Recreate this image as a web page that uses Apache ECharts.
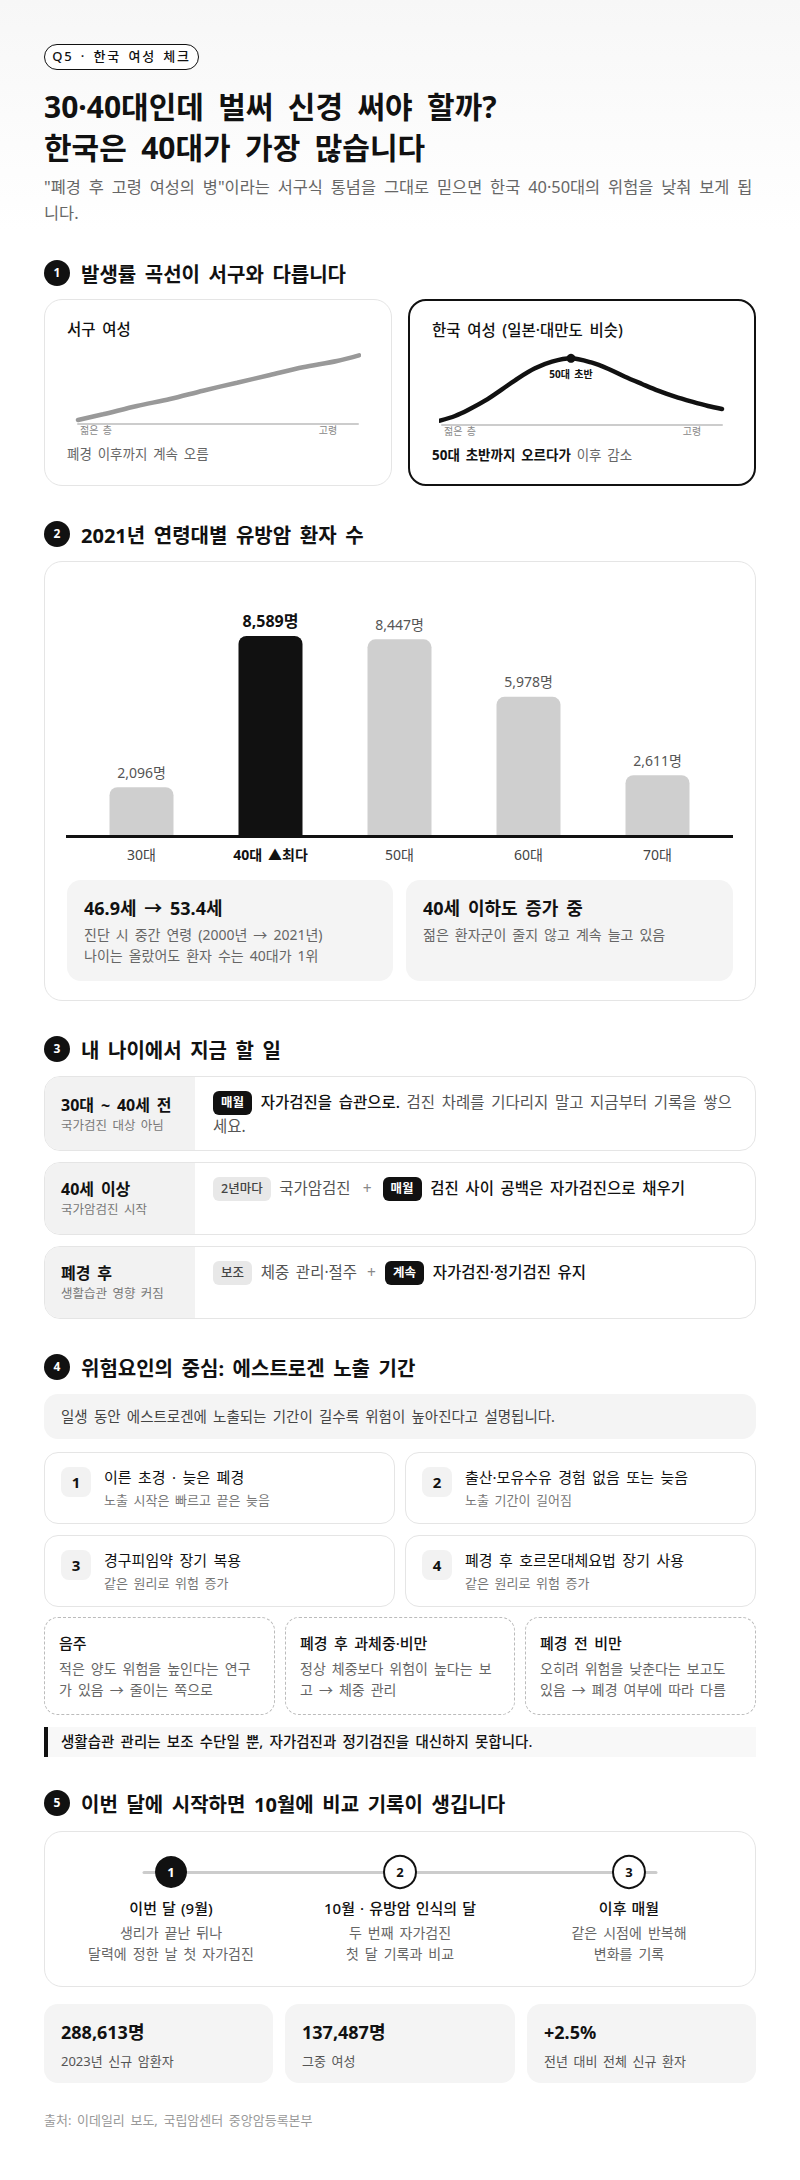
<!DOCTYPE html>
<html lang="ko">
<head>
<meta charset="utf-8">
<title>Q5 한국 여성 체크</title>
<script src="https://cdn.jsdelivr.net/npm/echarts@6/dist/echarts.min.js"></script>
<style>
* { box-sizing: border-box; margin: 0; padding: 0; word-spacing: .17em; }
html, body { width: 800px; height: 2180px; background: #fff; overflow: hidden; }
body { font-family: "Noto Sans", "Noto Sans CJK KR", sans-serif; color: #111; position: relative;
  background: linear-gradient(#f7f7f7 0, #fff 230px); }
.abs { position: absolute; left: 44px; width: 712px; }
.pill { position: absolute; left: 44px; top: 44px; width: 155px; height: 26px; border: 1.5px solid #111; border-radius: 13px;
  font-size: 13px; font-weight: 500; letter-spacing: 1.8px; line-height: 23px; text-align: center; background: #fff; white-space: nowrap; }
h1 { position: absolute; left: 44px; top: 86px; font-size: 30px; line-height: 41px; font-weight: 700; word-spacing: .22em; }
.lead { top: 174px; font-size: 16.4px; line-height: 26px; color: #666; word-spacing: .22em; }
.h { display: flex; align-items: center; height: 26px; font-size: 20px; font-weight: 700; gap: 11px; }
.h i { display: block; width: 26px; height: 26px; border-radius: 50%; background: #111; color: #fff; font-style: normal;
  font-size: 12px; line-height: 26px; text-align: center; }
.card { position: absolute; background: #fff; border: 1px solid #e5e5e5; border-radius: 18px; }
.curve { top: 299px; width: 348px; height: 187px; }
.curve .c { position: absolute; left: -1px; top: -1px; width: 348px; height: 187px; }
.curve b { position: absolute; left: 22px; top: 18px; font-size: 15.5px; font-weight: 500; line-height: 22px; white-space: nowrap; }
.curve p { position: absolute; left: 22px; top: 144px; font-size: 13.5px; line-height: 20px; color: #666; white-space: nowrap; }
.curve p strong { color: #111; font-weight: 700; }
.on { border: 2px solid #111; }
.on .c { left: -2px; top: -1px; }
.grey { position: absolute; background: #f4f4f4; border-radius: 14px; }
.grey b { display: block; font-size: 18px; font-weight: 700; line-height: 26px; margin-bottom: 3px; }
.grey p { font-size: 14px; line-height: 21px; color: #666; white-space: nowrap; }
.row { position: absolute; left: 44px; width: 712px; background: #fff; border: 1px solid #e5e5e5; border-radius: 16px; overflow: hidden; display: flex; }
.row .l { width: 150px; background: #f2f2f2; padding-left: 16px; flex: none; }
.row .l b { display: block; font-size: 16px; font-weight: 700; line-height: 24px; }
.row .l span { display: block; font-size: 12.5px; line-height: 18px; color: #777; }
.row .r { padding: 14px 22px 0 18px; font-size: 15.5px; line-height: 23px; color: #555; flex: 1; }
.row .r strong { color: #111; font-weight: 500; }
.tag { display: inline-block; height: 24px; line-height: 23px; padding: 0 8px; border-radius: 6px; font-size: 12.5px; font-weight: 700; margin-right: 2px; vertical-align: top; }
.tag.k { background: #111; color: #fff; }
.tag.g { background: #e8e8e8; color: #444; font-weight: 500; }
.plus { color: #888; margin: 0 11px 0 12px; }
.fac { position: absolute; background: #fff; border: 1px solid #e5e5e5; border-radius: 14px; width: 351px; height: 72px; }
.fac i { position: absolute; left: 16px; top: 14px; width: 30px; height: 30px; background: #f2f2f2; border-radius: 8px; font-style: normal; font-weight: 700; font-size: 15px; line-height: 30px; text-align: center; }
.fac b { position: absolute; left: 59px; top: 13px; font-size: 15px; font-weight: 400; line-height: 22px; white-space: nowrap; }
.fac span { position: absolute; left: 59px; top: 37px; font-size: 13px; line-height: 20px; color: #777; white-space: nowrap; }
.dash { position: absolute; top: 1617px; height: 98px; background: #fff; border: 1px dashed #bbb; border-radius: 14px; padding: 14px 14px 0; }
.dash b { display: block; font-size: 15px; font-weight: 500; line-height: 22px; margin-bottom: 4px; }
.dash p { font-size: 14px; line-height: 21px; color: #666; }
.note { top: 1727px; height: 30px; background: #f8f8f8; border-left: 4px solid #111; padding-left: 13px; font-size: 14.5px; font-weight: 500; line-height: 29px; }
.step { position: absolute; top: 1896px; width: 229px; margin-left: -114.5px; text-align: center; }
.step b { display: block; font-size: 15px; font-weight: 500; line-height: 24px; margin-bottom: 2px; word-spacing: .08em; }
.step p { font-size: 14px; line-height: 21px; color: #666; }
.stat { position: absolute; top: 2004px; height: 79px; background: #f4f4f4; border-radius: 14px; padding: 15px 17px 0; }
.stat b { display: block; font-size: 18px; font-weight: 700; line-height: 27px; margin-bottom: 3px; }
.stat span { font-size: 13px; line-height: 22px; color: #555; }
.src { top: 2110px; font-size: 13px; line-height: 20px; color: #999; }
</style>
</head>
<body>
<div class="pill">Q5 · 한국 여성 체크</div>
<h1>30·40대인데 벌써 신경 써야 할까?<br>한국은 40대가 가장 많습니다</h1>
<p class="abs lead">"폐경 후 고령 여성의 병"이라는 서구식 통념을 그대로 믿으면 한국 40·50대의 위험을 낮춰 보게 됩<br>니다.</p>

<div class="abs h" style="top:260px"><i>1</i>발생률 곡선이 서구와 다릅니다</div>
<div class="card curve" style="left:44px">
  <div class="c" id="westChart"></div>
  <b>서구 여성</b>
  <p>폐경 이후까지 계속 오름</p>
</div>
<div class="card curve on" style="left:408px">
  <div class="c" id="koreaChart"></div>
  <b>한국 여성 (일본·대만도 비슷)</b>
  <p><strong>50대 초반까지 오르다가</strong> 이후 감소</p>
</div>

<div class="abs h" style="top:521px"><i>2</i>2021년 연령대별 유방암 환자 수</div>
<div class="card" style="left:44px;top:561px;width:712px;height:440px">
  <div id="barChart" style="position:absolute;left:-1px;top:-1px;width:712px;height:320px"></div>
</div>
<div class="grey" style="left:67px;top:880px;width:326px;height:101px;padding:15px 17px 0">
  <b>46.9세 → 53.4세</b>
  <p>진단 시 중간 연령 (2000년 → 2021년)</p>
  <p>나이는 올랐어도 환자 수는 40대가 1위</p>
</div>
<div class="grey" style="left:406px;top:880px;width:327px;height:101px;padding:15px 17px 0">
  <b>40세 이하도 증가 중</b>
  <p>젊은 환자군이 줄지 않고 계속 늘고 있음</p>
</div>

<div class="abs h" style="top:1036px"><i>3</i>내 나이에서 지금 할 일</div>
<div class="row" style="top:1076px;height:75px">
  <div class="l" style="padding-top:16px"><b>30대 ~ 40세 전</b><span>국가검진 대상 아님</span></div>
  <div class="r"><span class="tag k">매월</span> <strong>자가검진을 습관으로.</strong> <span>검진 차례를 기다리지 말고 지금부터 기록을 쌓으</span><br><span>세요.</span></div>
</div>
<div class="row" style="top:1162px;height:73px">
  <div class="l" style="padding-top:14px"><b>40세 이상</b><span>국가암검진 시작</span></div>
  <div class="r"><span class="tag g">2년마다</span> 국가암검진<span class="plus">+</span><span class="tag k">매월</span> <strong>검진 사이 공백은 자가검진으로 채우기</strong></div>
</div>
<div class="row" style="top:1246px;height:73px">
  <div class="l" style="padding-top:14px"><b>폐경 후</b><span>생활습관 영향 커짐</span></div>
  <div class="r"><span class="tag g">보조</span> 체중 관리·절주<span class="plus" style="margin:0 9px 0 10px">+</span><span class="tag k">계속</span> <strong>자가검진·정기검진 유지</strong></div>
</div>

<div class="abs h" style="top:1354px"><i>4</i>위험요인의 중심: 에스트로겐 노출 기간</div>
<div class="abs" style="top:1394px;height:45px;background:#f4f4f4;border-radius:14px;padding-left:17px;font-size:14.5px;line-height:44px;color:#444">일생 동안 에스트로겐에 노출되는 기간이 길수록 위험이 높아진다고 설명됩니다.</div>
<div class="fac" style="left:44px;top:1452px"><i>1</i><b>이른 초경 · 늦은 폐경</b><span>노출 시작은 빠르고 끝은 늦음</span></div>
<div class="fac" style="left:405px;top:1452px"><i>2</i><b>출산·모유수유 경험 없음 또는 늦음</b><span>노출 기간이 길어짐</span></div>
<div class="fac" style="left:44px;top:1535px"><i>3</i><b>경구피임약 장기 복용</b><span>같은 원리로 위험 증가</span></div>
<div class="fac" style="left:405px;top:1535px"><i>4</i><b>폐경 후 호르몬대체요법 장기 사용</b><span>같은 원리로 위험 증가</span></div>
<div class="dash" style="left:44px;width:231px"><b>음주</b><p>적은 양도 위험을 높인다는 연구가 있음 → 줄이는 쪽으로</p></div>
<div class="dash" style="left:285px;width:230px"><b>폐경 후 과체중·비만</b><p>정상 체중보다 위험이 높다는 보고 → 체중 관리</p></div>
<div class="dash" style="left:525px;width:231px"><b>폐경 전 비만</b><p>오히려 위험을 낮춘다는 보고도 있음 → 폐경 여부에 따라 다름</p></div>
<div class="abs note">생활습관 관리는 보조 수단일 뿐, 자가검진과 정기검진을 대신하지 못합니다.</div>

<div class="abs h" style="top:1790px"><i>5</i>이번 달에 시작하면 10월에 비교 기록이 생깁니다</div>
<div class="card" style="left:44px;top:1831px;width:712px;height:156px"></div>
<div id="stepChart" style="position:absolute;left:124px;top:1848px;width:552px;height:48px"></div>
<div class="step" style="left:171px"><b>이번 달 (9월)</b><p>생리가 끝난 뒤나<br>달력에 정한 날 첫 자가검진</p></div>
<div class="step" style="left:400px"><b>10월 · 유방암 인식의 달</b><p>두 번째 자가검진<br>첫 달 기록과 비교</p></div>
<div class="step" style="left:629px"><b>이후 매월</b><p>같은 시점에 반복해<br>변화를 기록</p></div>
<div class="stat" style="left:44px;width:229px"><b>288,613명</b><span>2023년 신규 암환자</span></div>
<div class="stat" style="left:285px;width:230px"><b>137,487명</b><span>그중 여성</span></div>
<div class="stat" style="left:527px;width:229px"><b>+2.5%</b><span>전년 대비 전체 신규 환자</span></div>
<p class="abs src">출처: 이데일리 보도, 국립암센터 중앙암등록본부</p>

<script>
var FONT = '"Noto Sans", "Noto Sans CJK KR", sans-serif';

// 곡선 (가로: 나이 방향 위치, 세로: 발생률 상대값)
var westX = [0, 25, 59, 92, 125, 159, 192, 225, 259, 281];
var westY = [4, 9.7, 18, 25, 33.3, 41.3, 49, 56.7, 63, 68.7];
var koreaX = [-2, 13, 26, 43, 60, 76, 93, 110, 129, 150, 166, 183, 200, 216, 233, 250, 266, 280];
var koreaY = [4.3, 9, 15, 24.3, 35.7, 46.7, 56.7, 63.3, 66.7, 62.3, 56.3, 48.3, 41, 34.3, 28.3, 23.3, 19, 16];
var peakIndex = 8;
var peakLabel = '50대 초반';

// 막대
var ageGroups = ['30대', '40대 ▲최다', '50대', '60대', '70대'];
var patients = [2096, 8589, 8447, 5978, 2611];
var topIndex = 1;

// 타임라인
var stepNumbers = [1, 2, 3];

function pairs(xs, ys) {
    return xs.map(function (x, i) { return [x, ys[i]]; });
}

// 서구, 한국 곡선 공통 옵션
function curveOption(left, lineColor, xs, ys) {
    return {
        animation: false,
        grid: {left: left, top: 45, width: 280, height: 80},
        xAxis: {
            type: 'value', min: 0, max: 280, splitLine: {show: false},
            axisLine: {show: true, onZero: false, lineStyle: {color: '#ccc', width: 2}},
            axisTick: {show: false},
            axisLabel: {
                customValues: [18, 250], margin: 1,
                fontFamily: FONT, fontSize: 10, color: '#888',
                formatter: function (v) { return v < 100 ? '젊은 층' : '고령'; }
            }
        },
        yAxis: {type: 'value', min: 0, max: 80, show: false},
        series: [{
            type: 'line', smooth: 0.3, clip: false, showSymbol: false,
            data: pairs(xs, ys),
            lineStyle: {color: lineColor, width: 4.5, cap: 'round'}
        }]
    };
}

var westChart = echarts.init(document.getElementById('westChart'), null, {renderer: 'svg'});
westChart.setOption(curveOption(34, '#999', westX, westY));

var koreaChart = echarts.init(document.getElementById('koreaChart'), null, {renderer: 'svg'});
var koreaOption = curveOption(34, '#111', koreaX, koreaY);
koreaOption.series.push({
    type: 'scatter', symbolSize: 9, itemStyle: {color: '#111', opacity: 1},
    data: [[koreaX[peakIndex], koreaY[peakIndex]]],
    label: {
        show: true, position: 'bottom', distance: 6, formatter: peakLabel,
        fontFamily: FONT, fontSize: 10, fontWeight: 700, color: '#111'
    }
});
koreaChart.setOption(koreaOption);

var barChart = echarts.init(document.getElementById('barChart'), null, {renderer: 'svg'});
barChart.setOption({
    animation: false,
    grid: {left: 33, top: 75, width: 645, height: 200},
    graphic: [{
        type: 'rect', left: 22, top: 274,
        shape: {width: 667, height: 3}, style: {fill: '#111'}, z: 10
    }],
    xAxis: {
        type: 'category',
        data: ageGroups.map(function (name, i) {
            var isTop = i === topIndex;
            return {value: name, textStyle: {fontWeight: isTop ? 700 : 400, color: isTop ? '#111' : '#444'}};
        }),
        axisLine: {show: false}, axisTick: {show: false},
        axisLabel: {margin: 11, fontFamily: FONT, fontSize: 14}
    },
    yAxis: {type: 'value', min: 0, max: 8589, show: false},
    series: [{
        type: 'bar', barWidth: 64,
        data: patients.map(function (v, i) {
            var isTop = i === topIndex;
            return {
                value: v,
                itemStyle: {color: isTop ? '#111' : '#cfcfcf', borderRadius: [8, 8, 0, 0]},
                label: {
                    show: true, position: 'top', distance: isTop ? 7 : 8,
                    formatter: v.toLocaleString('en-US') + '명',
                    fontFamily: FONT, fontSize: isTop ? 16 : 14,
                    fontWeight: isTop ? 700 : 400, color: isTop ? '#111' : '#555'
                }
            };
        })
    }]
});

var stepChart = echarts.init(document.getElementById('stepChart'), null, {renderer: 'svg'});
stepChart.setOption({
    animation: false,
    grid: {left: 20, right: 20, top: 0, bottom: 0},
    xAxis: {
        type: 'value', min: -0.118, max: 2.118, splitLine: {show: false},
        axisLine: {show: true, onZero: true, lineStyle: {color: '#ccc', width: 3}},
        axisTick: {show: false}, axisLabel: {show: false}
    },
    yAxis: {type: 'value', min: -1, max: 1, show: false},
    series: [{
        type: 'scatter', symbolSize: 32,
        data: stepNumbers.map(function (n, i) {
            var first = i === 0;
            return {
                value: [i, 0],
                itemStyle: {color: first ? '#111' : '#fff', borderColor: '#111', borderWidth: first ? 0 : 2, opacity: 1},
                label: {
                    show: true, position: 'inside', formatter: String(n),
                    fontFamily: FONT, fontSize: 13, fontWeight: 700, color: first ? '#fff' : '#111'
                }
            };
        })
    }]
});
</script>
</body>
</html>
